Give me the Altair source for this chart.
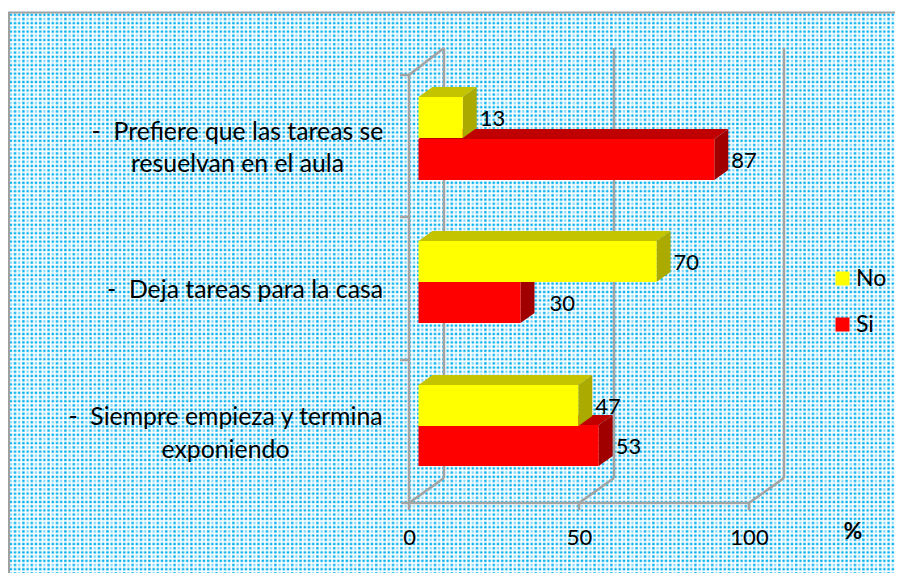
import base64
import altair as alt
import pandas as pd

# ---- values
categories = ["Prefiere", "Deja", "Siempre"]
no_values = [13, 70, 47]
si_values = [87, 30, 53]
series = ["No", "Si"]
tick_values = [0, 50, 100]

# ---- layout (page pixels)
W, H = 887, 565
X0, PX_PER_UNIT = 409.0, 3.4
FONT = "Lato"
GREY = "#a3a3a3"
BAR_X = 9.5 / PX_PER_UNIT     # bars start this far in from the front plane
DX = 14 / PX_PER_UNIT         # bar depth, horizontally
DY = 10                       # bar depth, vertically
WALL_DX = 35 / PX_PER_UNIT
WALL_DY = 25
front_top = 75
front_floor = 503
yellow_tops = [97, 241, 385]
red_tops = [139, 282, 425]
bar_h = 41
label_dx = [3, 3, 3, 15, 3, 3]


def v(px):
    return (px - X0) / PX_PER_UNIT


x_scale = alt.Scale(domain=[v(8), v(8 + W)], range=[0, W], nice=False, zero=False)
y_scale = alt.Scale(domain=[8, 8 + H], range=[0, H], nice=False, zero=False)
x_axis = alt.Axis(values=tick_values, grid=False, domain=False, ticks=False, zindex=1,
                  labelFont=FONT, labelFontSize=22, labelColor="#000000",
                  labelPadding=24, offset=-(573 - 503), labelFlush=False,
                  labelOverlap=False, title=None)
X = lambda f="x", **k: alt.X(f"{f}:Q", scale=x_scale, axis=x_axis, stack=None, **k)
Y = lambda f="y", **k: alt.Y(f"{f}:Q", scale=y_scale, axis=None, stack=None, **k)

# ---- dotted background as an SVG pattern image
svg = (
    f'<svg xmlns="http://www.w3.org/2000/svg" width="{W}" height="{H}">'
    '<defs><pattern id="p" width="8.4" height="8.4" patternUnits="userSpaceOnUse">'
    '<rect width="8.4" height="8.4" fill="#ffffff"/>'
    '<rect x="0.6" y="0.6" width="2.4" height="2.4" fill="#00b0f0"/>'
    '<rect x="4.8" y="4.8" width="2.4" height="2.4" fill="#00b0f0"/>'
    '<rect x="4.8" y="0.6" width="2.4" height="2.4" fill="#00b0f0"/>'
    '<rect x="0.6" y="4.8" width="2.4" height="2.4" fill="#7fd7f7"/>'
    "</pattern></defs>"
    f'<rect width="{W}" height="{H}" fill="url(#p)"/></svg>'
)
uri = "data:image/svg+xml;base64," + base64.b64encode(svg.encode()).decode()
background = (
    alt.Chart(pd.DataFrame({"u": [uri]}))
    .mark_image(width=W, height=H, align="left", baseline="top", aspect=False)
    .encode(x=alt.value(1), y=alt.value(5), url="u:N")
)

# ---- frame
frame = alt.Chart(pd.DataFrame({"x": [v(8), v(9)], "x2": [v(8 + W), v(9)],
                                "y": [12.5, 12], "y2": [12.5, 8 + H]})).mark_rule(
    color="#a0a0a0", strokeWidth=2
).encode(x=X(), x2="x2:Q", y=Y(), y2="y2:Q")

# ---- 3-D walls and floor
lines = []
for t in tick_values:
    # floor diagonal, back wall vertical, tick
    lines.append((t, t + WALL_DX, front_floor, front_floor - WALL_DY))
    lines.append((t + WALL_DX, t + WALL_DX, front_top - WALL_DY - 2, front_floor - WALL_DY))
    lines.append((t, t, front_floor, front_floor + 7))
lines.append((0, 0, front_top, front_floor))
lines.append((0, WALL_DX, front_top, front_top - WALL_DY - 2))
lines.append((v(401), 100, front_floor, front_floor))
lines.append((v(400), 0, front_top, front_top))
lines.append((v(400), 0, 217, 217))
lines.append((v(400), 0, 360, 360))
walls = alt.Chart(pd.DataFrame(lines, columns=["x", "x2", "y", "y2"])).mark_rule(
    color=GREY, strokeWidth=2.5
).encode(x=X(), x2="x2:Q", y=Y(), y2="y2:Q")


# ---- bars
def bar_layers(values, tops, color_top, color_side, name):
    layers, fronts = [], []
    for val, ty in zip(values, tops):
        x0, x1 = BAR_X, BAR_X + val
        by = ty + bar_h
        fronts.append({"x": x0, "x2": x1, "y": ty, "y2": by, "serie": name})
        top_df = pd.DataFrame({"x": [x0 + DX, x0], "x2": [x1 + DX, x1], "y": [ty - DY, ty]})
        side_df = pd.DataFrame({"x": [x1, x1 + DX], "y": [ty, ty - DY], "y2": [by, by - DY]})
        layers.append(
            alt.Chart(top_df).mark_area(orient="horizontal", color=color_top).encode(
                y=Y(), x=X(), x2="x2:Q")
        )
        layers.append(
            alt.Chart(side_df).mark_area(orient="vertical", color=color_side).encode(
                x=X(), y=Y(), y2="y2:Q")
        )
    front = alt.Chart(pd.DataFrame(fronts)).mark_rect().encode(
        x=X(), x2="x2:Q", y=Y(), y2="y2:Q",
        color=alt.Color(
            "serie:N",
            scale=alt.Scale(domain=series, range=["#ffff00", "#ff0000"]),
            legend=alt.Legend(
                title=None, orient="none", legendX=823, legendY=259,
                symbolType="square", symbolSize=196, symbolStrokeWidth=0,
                labelFont=FONT, labelFontSize=23, labelColor="#000000",
                labelLimit=100, rowPadding=22, labelOffset=2, padding=0,
            ),
        ),
    )
    return layers + [front]


red = bar_layers(si_values, red_tops, "#c00000", "#a00000", "Si")
yellow = bar_layers(no_values, yellow_tops, "#c4c400", "#aaaa00", "No")

# ---- value labels
rows = []
k = 0
for g in range(3):
    for val, ty in ((no_values[g], yellow_tops[g]), (si_values[g], red_tops[g])):
        rows.append({"x": BAR_X + val + DX + label_dx[k] / PX_PER_UNIT, "y": ty + 22, "t": str(val)})
        k += 1
value_labels = alt.Chart(pd.DataFrame(rows)).mark_text(
    align="left", baseline="middle", font=FONT, fontSize=22, color="#000000"
).encode(x=X(), y=Y(), text="t:N")

# ---- category labels
NB = "\u00a0\u00a0"
cat_rows = [
    (f"-{NB}Prefiere que las tareas se", 237.5, 133),
    ("resuelvan en el aula", 237.5, 165),
    (f"-{NB}Deja tareas para la casa", 245, 291),
    (f"-{NB}Siempre empieza y termina", 225.5, 418),
    ("exponiendo", 225.5, 451),
]
cat_labels = alt.Chart(
    pd.DataFrame([{"t": t, "x": v(x), "y": y} for t, x, y in cat_rows])
).mark_text(align="center", baseline="middle", font=FONT, fontSize=24.8, color="#000000").encode(
    x=X(), y=Y(), text="t:N"
)

pct = alt.Chart(pd.DataFrame({"x": [v(853)], "y": [532], "t": ["%"]})).mark_text(
    align="center", baseline="middle", font=FONT, fontSize=23, fontWeight="bold", color="#000000"
).encode(x=X(), y=Y(), text="t:N")

chart = alt.layer(
    background, frame, walls, *red, *yellow, value_labels, cat_labels, pct
).properties(width=W, height=H, padding=0, autosize=alt.AutoSizeParams(type="none")).configure_view(stroke=None)

chart.save("out.html", embed_options={"renderer": "svg", "actions": False})
